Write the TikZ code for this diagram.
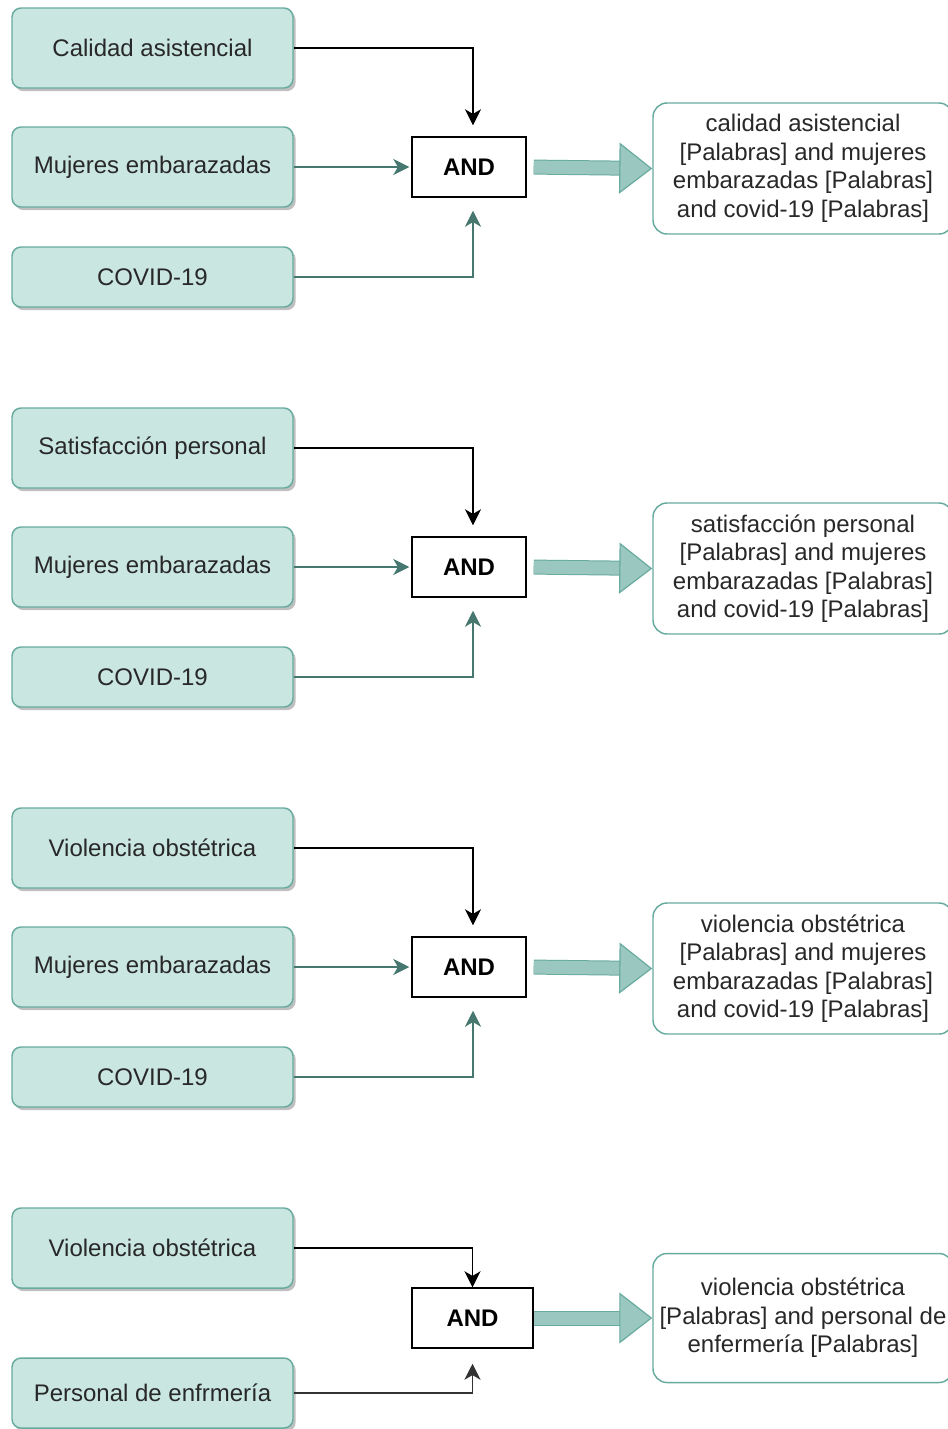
\documentclass[tikz,border=0pt]{standalone}
\usepackage{fontspec}
\setmainfont{Liberation Sans}
\usetikzlibrary{arrows.meta,shadows}

\definecolor{boxfill}{RGB}{201,230,224}
\definecolor{boxline}{RGB}{103,171,159}
\definecolor{linkline}{RGB}{70,120,111}
\definecolor{fatfill}{RGB}{154,199,191}
\definecolor{textgray}{RGB}{40,40,40}

\tikzset{
  lbox/.style={draw=boxline, fill=boxfill, line width=1.1pt, rounded corners=6.75pt,
    minimum width=210.75pt, minimum height=60pt, inner sep=0pt, text=textgray,
    drop shadow={shadow xshift=2pt, shadow yshift=-2.4pt, fill=black, opacity=0.25}},
  andbox/.style={draw=black, line width=1.1pt, fill=white, minimum width=85.5pt,
    minimum height=45pt, inner sep=0pt, font=\fontsize{18}{21.4}\selectfont\bfseries},
  resbox/.style={draw=boxline, line width=1.1pt, fill=white, rounded corners=10.5pt,
    minimum width=225pt, minimum height=98.25pt, inner sep=0pt, align=center, text=textgray},
  link/.style={line width=1.1pt, -{Stealth[length=12pt,width=12pt,inset=3.5pt]}},
  fat/.style={draw=fatfill, line width=9.75pt, shorten <=#1,
    -{Triangle[length=24.75pt,width=38.25pt,line width=0.9pt,fill=fatfill,color=boxline]},
    preaction={draw=boxline, line width=11.25pt, arrows=-, shorten <=#1, shorten >=24pt}},
  fat/.default=5.25pt
}

\begin{document}
\begin{tikzpicture}[x=0.75pt,y=-0.75pt,every node/.style={font=\fontsize{18}{21.4}\selectfont}]
\useasboundingbox (0,0) rectangle (948,1429);
\clip (0,0) rectangle (948,1429);

%Group: calidad asistencial
\draw (152.5,48) node (c1) [lbox] {Calidad asistencial};
\draw (152.5,167) node (m1) [lbox] {Mujeres embarazadas};
\draw (152.5,277) node (v1) [lbox, minimum height=45pt] {COVID-19};
\draw (469,167) node (and1) [andbox] {AND};
\draw (803,168.5) node (res1) [resbox] {calidad asistencial\\{}[Palabras] and mujeres\\embarazadas [Palabras]\\and covid-19 [Palabras]};
%Straight Lines
\draw [link] (c1.east) -| ([xshift=3pt,yshift=8.25pt]and1.north);
\draw [link, linkline, shorten >=1.5pt] (m1.east) -- (and1.west);
\draw [link, linkline] (v1.east) -| ([xshift=3pt,yshift=-9.75pt]and1.south);
\draw [fat] (and1.east) -- (res1.west);

%Group: satisfaccion personal
\draw (152.5,448) node (c2) [lbox] {Satisfacción personal};
\draw (152.5,567) node (m2) [lbox] {Mujeres embarazadas};
\draw (152.5,677) node (v2) [lbox, minimum height=45pt] {COVID-19};
\draw (469,567) node (and2) [andbox] {AND};
\draw (803,568.5) node (res2) [resbox] {satisfacción personal\\{}[Palabras] and mujeres\\embarazadas [Palabras]\\and covid-19 [Palabras]};
%Straight Lines
\draw [link] (c2.east) -| ([xshift=3pt,yshift=8.25pt]and2.north);
\draw [link, linkline, shorten >=1.5pt] (m2.east) -- (and2.west);
\draw [link, linkline] (v2.east) -| ([xshift=3pt,yshift=-9.75pt]and2.south);
\draw [fat] (and2.east) -- (res2.west);

%Group: violencia obstetrica
\draw (152.5,848) node (c3) [lbox] {Violencia obstétrica};
\draw (152.5,967) node (m3) [lbox] {Mujeres embarazadas};
\draw (152.5,1077) node (v3) [lbox, minimum height=45pt] {COVID-19};
\draw (469,967) node (and3) [andbox] {AND};
\draw (803,968.5) node (res3) [resbox] {violencia obstétrica\\{}[Palabras] and mujeres\\embarazadas [Palabras]\\and covid-19 [Palabras]};
%Straight Lines
\draw [link] (c3.east) -| ([xshift=3pt,yshift=8.25pt]and3.north);
\draw [link, linkline, shorten >=1.5pt] (m3.east) -- (and3.west);
\draw [link, linkline] (v3.east) -| ([xshift=3pt,yshift=-9.75pt]and3.south);
\draw [fat] (and3.east) -- (res3.west);

%Group: personal de enfermeria
\draw (152.5,1248) node (c4) [lbox] {Violencia obstétrica};
\draw (152.5,1393) node (p4) [lbox, minimum height=52.5pt] {Personal de enfrmería};
\draw (472.5,1318) node (and4) [andbox, minimum width=90.75pt] {AND};
\draw (803,1318) node (res4) [resbox, minimum height=96.75pt] {violencia obstétrica\\{}[Palabras] and personal de\\enfermería [Palabras]};
%Straight Lines
\draw [link] (c4.east) -| (and4.north);
\draw [link, black!80] (p4.east) -| ([yshift=-11.25pt]and4.south);
\draw [fat=0pt] (and4.east) -- (res4.west);

\end{tikzpicture}
\end{document}
